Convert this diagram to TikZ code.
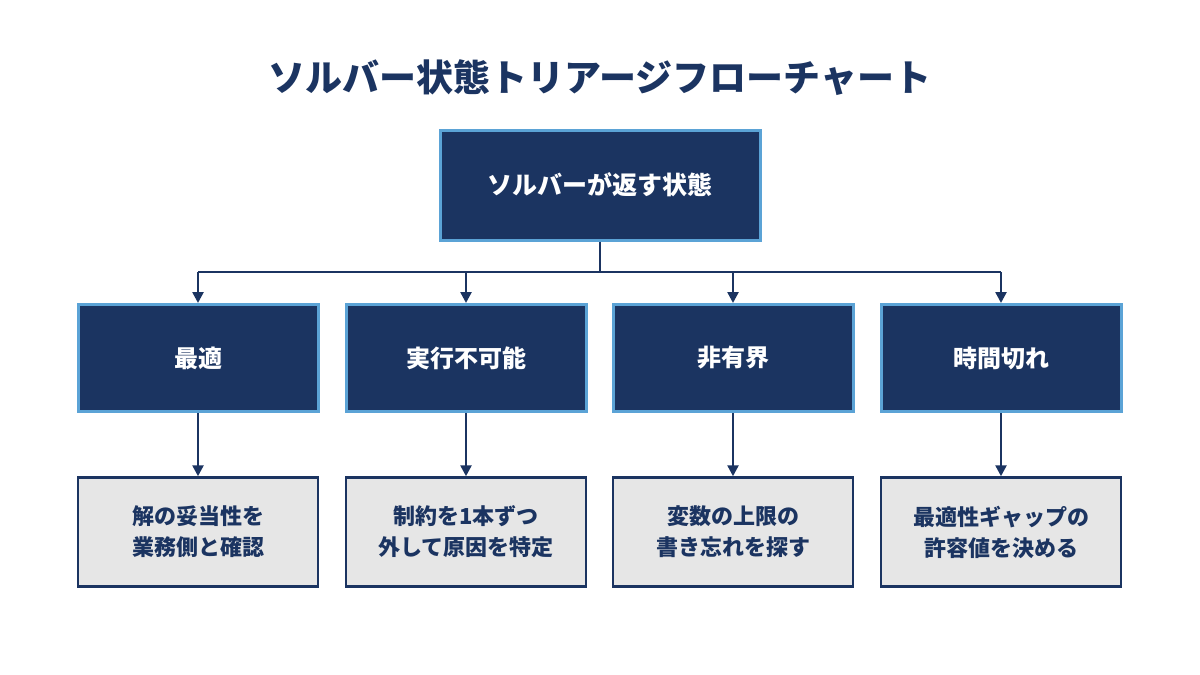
\documentclass[tikz,border=0pt]{standalone}
\usepackage{fontspec}
\setmainfont{Noto Sans CJK JP}
\usetikzlibrary{arrows.meta}
\definecolor{navy}{HTML}{1B3461}
\definecolor{edge}{HTML}{5BA3D6}
\definecolor{pale}{HTML}{E6E6E6}
\tikzset{
 topbox/.style={draw=edge,line width=3pt,fill=navy,text=white,font=\bfseries\fontsize{25}{30}\selectfont,minimum width=320pt,minimum height=110pt},
 midbox/.style={draw=edge,line width=3pt,fill=navy,text=white,font=\bfseries\fontsize{24}{29}\selectfont,minimum width=240pt,minimum height=107pt},
 lowbox/.style={draw=navy,line width=2.5pt,fill=pale,text=navy,font=\bfseries\fontsize{22}{31}\selectfont,minimum width=240pt,minimum height=109pt,align=center},
 conn/.style={draw=navy,line width=2.5pt,-{Triangle[length=11pt,width=11pt]}}
}
\begin{document}
\begin{tikzpicture}[x=1pt,y=-1pt]
\useasboundingbox[fill=white] (0,0) rectangle (1200,675);
\node[text=navy,font=\bfseries\fontsize{37}{44}\selectfont] (title) at (600,78) {ソルバー状態トリアージフローチャート};
\node[topbox] (top) at (600,185) {ソルバーが返す状態};
\node[midbox] (a) at (198,358) {最適};
\node[midbox] (b) at (466,358) {実行不可能};
\node[midbox] (c) at (733,358) {非有界};
\node[midbox] (d) at (1001,358) {時間切れ};
\node[lowbox] (a2) at (198,532) {解の妥当性を\\業務側と確認};
\node[lowbox] (b2) at (466,532) {制約を1本ずつ\\外して原因を特定};
\node[lowbox] (c2) at (733,532) {変数の上限の\\書き忘れを探す};
\node[lowbox] (d2) at (1001,532) {最適性ギャップの\\許容値を決める};
\coordinate (hub) at (600,272);
\draw[navy,line width=2.5pt] (top.south) -- (hub);
\draw[navy,line width=2.5pt] (a.north |- hub) -- (d.north |- hub);
\foreach \n in {a,b,c,d}{
 \draw[conn] (\n.north |- hub) -- (\n.north);
 \draw[conn] (\n.south) -- (\n2.north);
}
\end{tikzpicture}
\end{document}
